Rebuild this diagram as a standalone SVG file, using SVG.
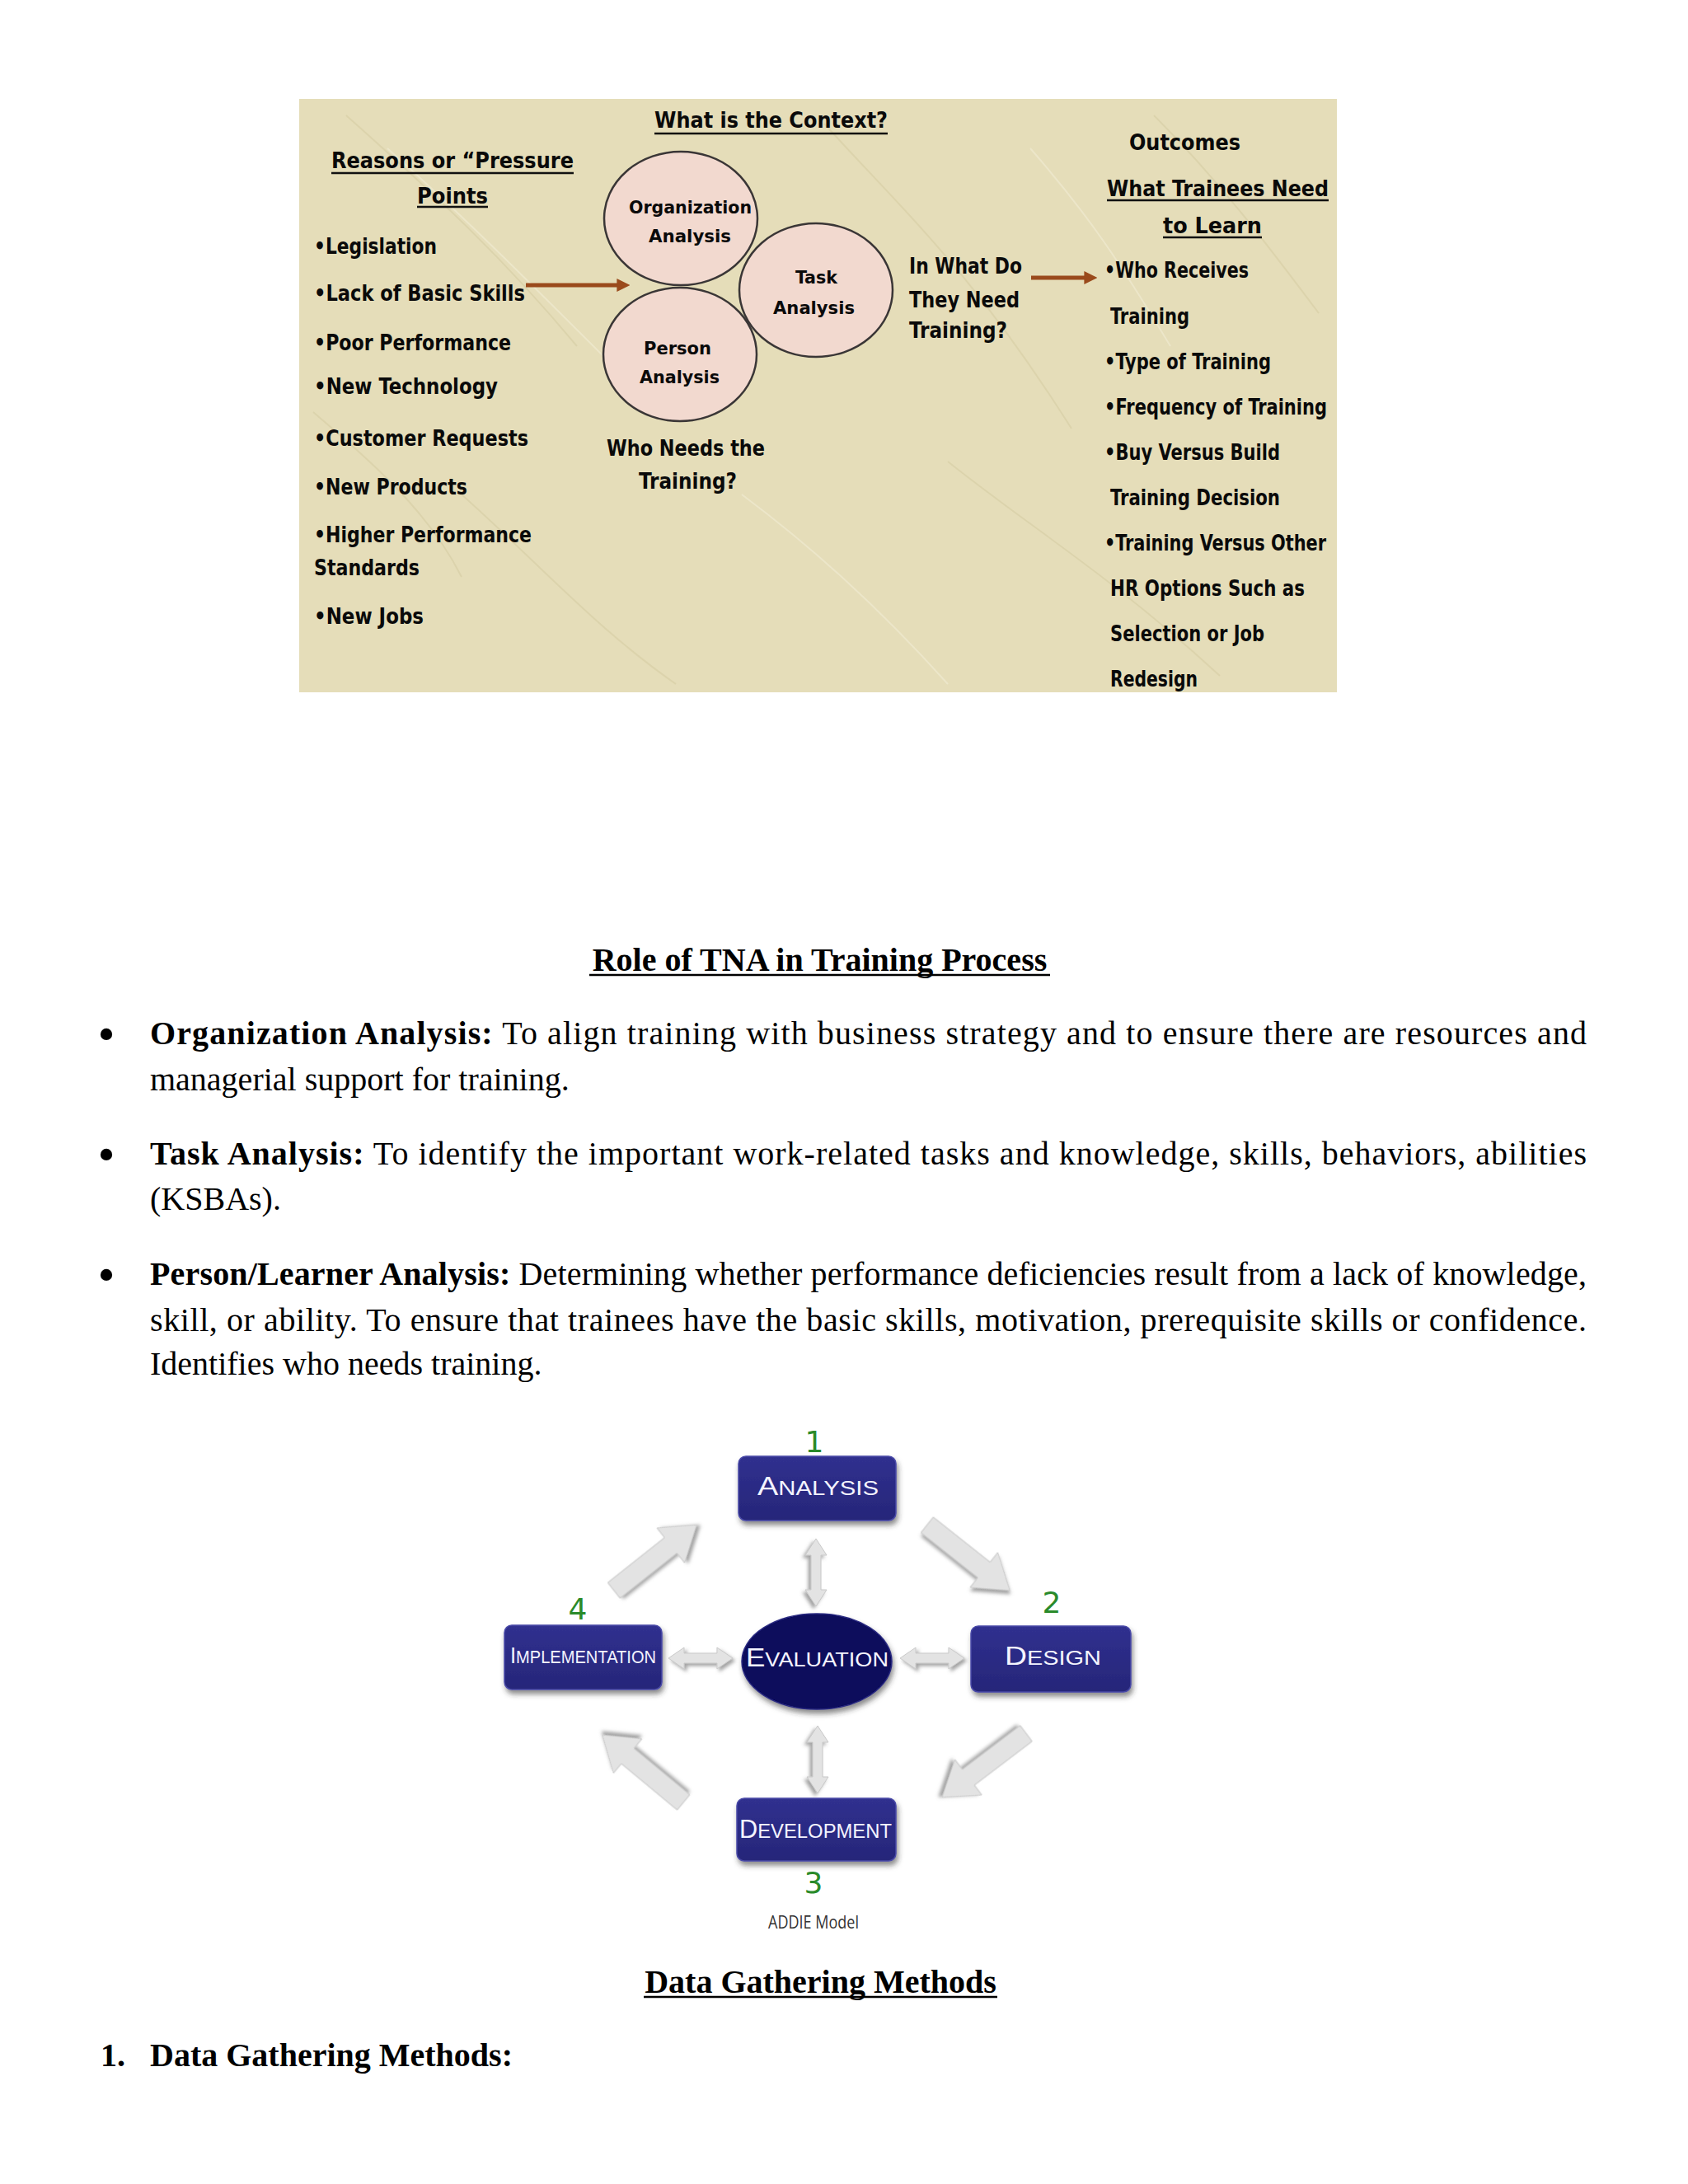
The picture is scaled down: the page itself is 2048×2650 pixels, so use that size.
<svg xmlns="http://www.w3.org/2000/svg" xmlns:xlink="http://www.w3.org/1999/xlink" width="2048" height="2650" viewBox="0 0 2048 2650">
<style>
.px{font-family:"Liberation Sans Narrow","DejaVu Sans Condensed","Arial Narrow",sans-serif;font-weight:bold;font-size:27px;fill:#0a0a0a;}
.pxs{font-family:"Liberation Sans Narrow","DejaVu Sans Condensed","Arial Narrow",sans-serif;font-weight:bold;font-size:22px;fill:#0a0a0a;}
.ul{stroke:#111;stroke-width:2.5;}
.body{font-family:"Liberation Serif","Times New Roman",serif;font-size:40px;fill:#000;}
.b{font-weight:bold;}
.bul{font-family:"Liberation Serif","Times New Roman",serif;font-size:60px;fill:#000;text-anchor:middle;}
.circ{fill:#f2d9cf;stroke:#3a3636;stroke-width:2.5;}
.brown{stroke:#9a4a1c;stroke-width:5;fill:none;}
.box{fill:url(#boxg);stroke:#4a4aa8;stroke-width:1.5;filter:url(#sh);}
.lbl{font-family:"Liberation Sans","DejaVu Sans",sans-serif;fill:#f4f4ff;}
.num{font-family:"DejaVu Sans","Liberation Sans",sans-serif;font-size:36px;fill:#2a8a2a;text-anchor:middle;}
.garrow{fill:#e3e3e3;stroke:#c8c8c8;stroke-width:1;filter:url(#gsh);}
</style>
<defs>
<linearGradient id="boxg" x1="0" y1="0" x2="0" y2="1">
<stop offset="0" stop-color="#30308f"/>
<stop offset="1" stop-color="#262679"/>
</linearGradient>
<filter id="sh" x="-20%" y="-20%" width="140%" height="160%">
<feDropShadow dx="2" dy="5" stdDeviation="3" flood-color="#333" flood-opacity="0.55"/>
</filter>
<filter id="gsh" x="-30%" y="-30%" width="160%" height="160%">
<feDropShadow dx="3" dy="3" stdDeviation="2" flood-color="#666" flood-opacity="0.6"/>
</filter>
<marker id="bh" viewBox="0 0 10 10" refX="6" refY="5" markerWidth="3.2" markerHeight="3.2" orient="auto">
<path d="M0,0 L10,5 L0,10 z" fill="#9a4a1c"/>
</marker>
<path id="blk" d="M-64,-12 L24,-12 L24,-27 L64,0 L24,27 L24,12 L-64,12 Z"/>
<path id="dbl" d="M-41,0 L-21,-13 L-21,-6 L21,-6 L21,-13 L41,0 L21,13 L21,6 L-21,6 L-21,13 Z"/>
</defs>

<rect x="0" y="0" width="2048" height="2650" fill="#ffffff"/>

<!-- Top picture: TNA context -->
<g id="tna-picture">
<rect x="363" y="120" width="1259" height="720" fill="#e5ddb9"/>
<g stroke="#d6cda4" stroke-width="2" fill="none" opacity="0.6">
<path d="M420,140 C520,230 600,300 700,420"/>
<path d="M1000,150 C1100,260 1180,330 1300,520"/>
<path d="M560,600 C650,680 720,760 820,830"/>
<path d="M1150,560 C1250,640 1350,700 1480,820"/>
<path d="M380,500 C450,560 520,620 560,700"/>
<path d="M1400,140 C1480,220 1540,300 1600,380"/>
</g>
<g stroke="#f0ead0" stroke-width="2" fill="none" opacity="0.7">
<path d="M470,180 C560,260 640,340 760,460"/>
<path d="M900,600 C980,660 1060,730 1150,830"/>
<path d="M1250,180 C1320,260 1360,320 1420,420"/>
</g>
</g>

<g id="pressure-points">
<text class="px" x="402" y="204" textLength="294" lengthAdjust="spacingAndGlyphs">Reasons or “Pressure</text>
<line class="ul" x1="402" y1="210" x2="696" y2="210"/>
<text class="px" x="506" y="247" textLength="86" lengthAdjust="spacingAndGlyphs">Points</text>
<line class="ul" x1="506" y1="251" x2="592" y2="251"/>
<text class="px" x="381" y="308" textLength="149" lengthAdjust="spacingAndGlyphs">•Legislation</text>
<text class="px" x="381" y="365" textLength="256" lengthAdjust="spacingAndGlyphs">•Lack of Basic Skills</text>
<text class="px" x="381" y="425" textLength="239" lengthAdjust="spacingAndGlyphs">•Poor Performance</text>
<text class="px" x="381" y="478" textLength="223" lengthAdjust="spacingAndGlyphs">•New Technology</text>
<text class="px" x="381" y="541" textLength="260" lengthAdjust="spacingAndGlyphs">•Customer Requests</text>
<text class="px" x="381" y="600" textLength="186" lengthAdjust="spacingAndGlyphs">•New Products</text>
<text class="px" x="381" y="658" textLength="264" lengthAdjust="spacingAndGlyphs">•Higher Performance</text>
<text class="px" x="381" y="698" textLength="128" lengthAdjust="spacingAndGlyphs">Standards</text>
<text class="px" x="381" y="757" textLength="133" lengthAdjust="spacingAndGlyphs">•New Jobs</text>
</g>

<g id="context">
<text class="px" x="794" y="155" textLength="283" lengthAdjust="spacingAndGlyphs">What is the Context?</text>
<line class="ul" x1="794" y1="162" x2="1077" y2="162"/>
<text class="px" x="736" y="553" textLength="192" lengthAdjust="spacingAndGlyphs">Who Needs the</text>
<text class="px" x="775" y="593" textLength="119" lengthAdjust="spacingAndGlyphs">Training?</text>
<text class="px" x="1103" y="332" textLength="137" lengthAdjust="spacingAndGlyphs">In What Do</text>
<text class="px" x="1103" y="373" textLength="134" lengthAdjust="spacingAndGlyphs">They Need</text>
<text class="px" x="1103" y="410" textLength="119" lengthAdjust="spacingAndGlyphs">Training?</text>
</g>

<g id="org-analysis">
<ellipse class="circ" cx="826" cy="265" rx="93" ry="81"/>
<text class="pxs" x="763" y="259" textLength="149" lengthAdjust="spacingAndGlyphs">Organization</text>
<text class="pxs" x="787" y="294" textLength="100" lengthAdjust="spacingAndGlyphs">Analysis</text>
</g>
<g id="person-analysis">
<ellipse class="circ" cx="825" cy="430" rx="93" ry="81"/>
<text class="pxs" x="781" y="430" textLength="82" lengthAdjust="spacingAndGlyphs">Person</text>
<text class="pxs" x="776" y="465" textLength="97" lengthAdjust="spacingAndGlyphs">Analysis</text>
</g>
<g id="task-analysis">
<ellipse class="circ" cx="990" cy="352" rx="93" ry="81"/>
<text class="pxs" x="965" y="344" textLength="51" lengthAdjust="spacingAndGlyphs">Task</text>
<text class="pxs" x="938" y="381" textLength="99" lengthAdjust="spacingAndGlyphs">Analysis</text>
</g>

<g id="outcomes">
<text class="px" x="1370" y="182" textLength="135" lengthAdjust="spacingAndGlyphs">Outcomes</text>
<text class="px" x="1343" y="238" textLength="269" lengthAdjust="spacingAndGlyphs">What Trainees Need</text>
<line class="ul" x1="1343" y1="243" x2="1612" y2="243"/>
<text class="px" x="1411" y="283" textLength="120" lengthAdjust="spacingAndGlyphs">to Learn</text>
<line class="ul" x1="1411" y1="288" x2="1531" y2="288"/>
<text class="px" x="1340" y="337" textLength="175" lengthAdjust="spacingAndGlyphs">•Who Receives</text>
<text class="px" x="1347" y="393" textLength="96" lengthAdjust="spacingAndGlyphs">Training</text>
<text class="px" x="1340" y="448" textLength="202" lengthAdjust="spacingAndGlyphs">•Type of Training</text>
<text class="px" x="1340" y="503" textLength="270" lengthAdjust="spacingAndGlyphs">•Frequency of Training</text>
<text class="px" x="1340" y="558" textLength="213" lengthAdjust="spacingAndGlyphs">•Buy Versus Build</text>
<text class="px" x="1347" y="613" textLength="206" lengthAdjust="spacingAndGlyphs">Training Decision</text>
<text class="px" x="1340" y="668" textLength="269" lengthAdjust="spacingAndGlyphs">•Training Versus Other</text>
<text class="px" x="1347" y="723" textLength="236" lengthAdjust="spacingAndGlyphs">HR Options Such as</text>
<text class="px" x="1347" y="778" textLength="187" lengthAdjust="spacingAndGlyphs">Selection or Job</text>
<text class="px" x="1347" y="833" textLength="106" lengthAdjust="spacingAndGlyphs">Redesign</text>
</g>

<g id="tna-connectors">
<line class="brown" x1="638" y1="346" x2="758" y2="346" marker-end="url(#bh)"/>
<line class="brown" x1="1251" y1="337" x2="1325" y2="337" marker-end="url(#bh)"/>
</g>

<!-- Text section -->
<g id="role-text">
<text class="body b" x="994.5" y="1178" text-anchor="middle">Role of TNA in Training Process</text>
<line x1="715" y1="1183" x2="1274" y2="1183" stroke="#000" stroke-width="2.5"/>

<text class="bul" x="129" y="1275">•</text>
<text class="body" x="182" y="1267" textLength="1743" lengthAdjust="spacing"><tspan class="b">Organization Analysis:</tspan> To align training with business strategy and to ensure there are resources and</text>
<text class="body" x="182" y="1323">managerial support for training.</text>

<text class="bul" x="129" y="1421">•</text>
<text class="body" x="182" y="1413" textLength="1743" lengthAdjust="spacing"><tspan class="b">Task Analysis:</tspan> To identify the important work-related tasks and knowledge, skills, behaviors, abilities</text>
<text class="body" x="182" y="1468">(KSBAs).</text>

<text class="bul" x="129" y="1567">•</text>
<text class="body" x="182" y="1559" textLength="1743" lengthAdjust="spacing"><tspan class="b">Person/Learner Analysis:</tspan> Determining whether performance deficiencies result from a lack of knowledge,</text>
<text class="body" x="182" y="1615" textLength="1743" lengthAdjust="spacing">skill, or ability. To ensure that trainees have the basic skills, motivation, prerequisite skills or confidence.</text>
<text class="body" x="182" y="1668">Identifies who needs training.</text>
</g>

<!-- ADDIE model -->
<g id="addie-connectors">
<use xlink:href="#blk" href="#blk" class="garrow" transform="translate(795,1890) rotate(-38.4)"/>
<use xlink:href="#blk" href="#blk" class="garrow" transform="translate(1175,1890) rotate(38.4)"/>
<use xlink:href="#blk" href="#blk" class="garrow" transform="translate(1194,2142) rotate(142.8)"/>
<use xlink:href="#blk" href="#blk" class="garrow" transform="translate(780,2146) rotate(-140.3)"/>
<use xlink:href="#dbl" href="#dbl" class="garrow" transform="translate(990,1908) rotate(90)"/>
<use xlink:href="#dbl" href="#dbl" class="garrow" transform="translate(992,2135) rotate(90)"/>
<use xlink:href="#dbl" href="#dbl" class="garrow" transform="translate(850,2012) scale(0.95,1)"/>
<use xlink:href="#dbl" href="#dbl" class="garrow" transform="translate(1131,2012) scale(0.95,1)"/>
</g>

<g id="analysis">
<text class="num" x="988" y="1762">1</text>
<rect class="box" x="896" y="1767" width="191" height="78" rx="9"/>
<text class="lbl" x="919" y="1814" textLength="147" lengthAdjust="spacingAndGlyphs"><tspan font-size="31">A</tspan><tspan font-size="24">NALYSIS</tspan></text>
</g>
<g id="design">
<text class="num" x="1276" y="1957">2</text>
<rect class="box" x="1178" y="1973" width="194" height="80" rx="9"/>
<text class="lbl" x="1219" y="2020" textLength="117" lengthAdjust="spacingAndGlyphs"><tspan font-size="31">D</tspan><tspan font-size="24">ESIGN</tspan></text>
</g>
<g id="implementation">
<text class="num" x="701" y="1965">4</text>
<rect class="box" x="612" y="1972" width="191" height="78" rx="9"/>
<text class="lbl" x="619" y="2018" textLength="177" lengthAdjust="spacingAndGlyphs"><tspan font-size="28">I</tspan><tspan font-size="22">MPLEMENTATION</tspan></text>
</g>
<g id="evaluation">
<ellipse cx="991" cy="2016" rx="91" ry="58" fill="#07075c" stroke="#2a2a80" stroke-width="1.5" filter="url(#sh)"/>
<text class="lbl" x="905" y="2022" textLength="173" lengthAdjust="spacingAndGlyphs"><tspan font-size="31">E</tspan><tspan font-size="24">VALUATION</tspan></text>
</g>
<g id="development">
<rect class="box" x="894" y="2182" width="193" height="76" rx="9"/>
<text class="lbl" x="897" y="2230" textLength="185" lengthAdjust="spacingAndGlyphs"><tspan font-size="31">D</tspan><tspan font-size="24">EVELOPMENT</tspan></text>
<text class="num" x="987" y="2297">3</text>
</g>
<g id="addie-caption">
<text x="932" y="2340" textLength="110" lengthAdjust="spacingAndGlyphs" font-family="Open Sans,Liberation Sans,sans-serif" font-size="21" fill="#333">ADDIE Model</text>
</g>

<g id="data-gathering">
<text class="body b" x="995.5" y="2418" text-anchor="middle">Data Gathering Methods</text>
<line x1="781" y1="2423" x2="1210" y2="2423" stroke="#000" stroke-width="2.5"/>
<text class="body b" x="122" y="2507">1.</text>
<text class="body b" x="182" y="2507">Data Gathering Methods:</text>
</g>
</svg>
